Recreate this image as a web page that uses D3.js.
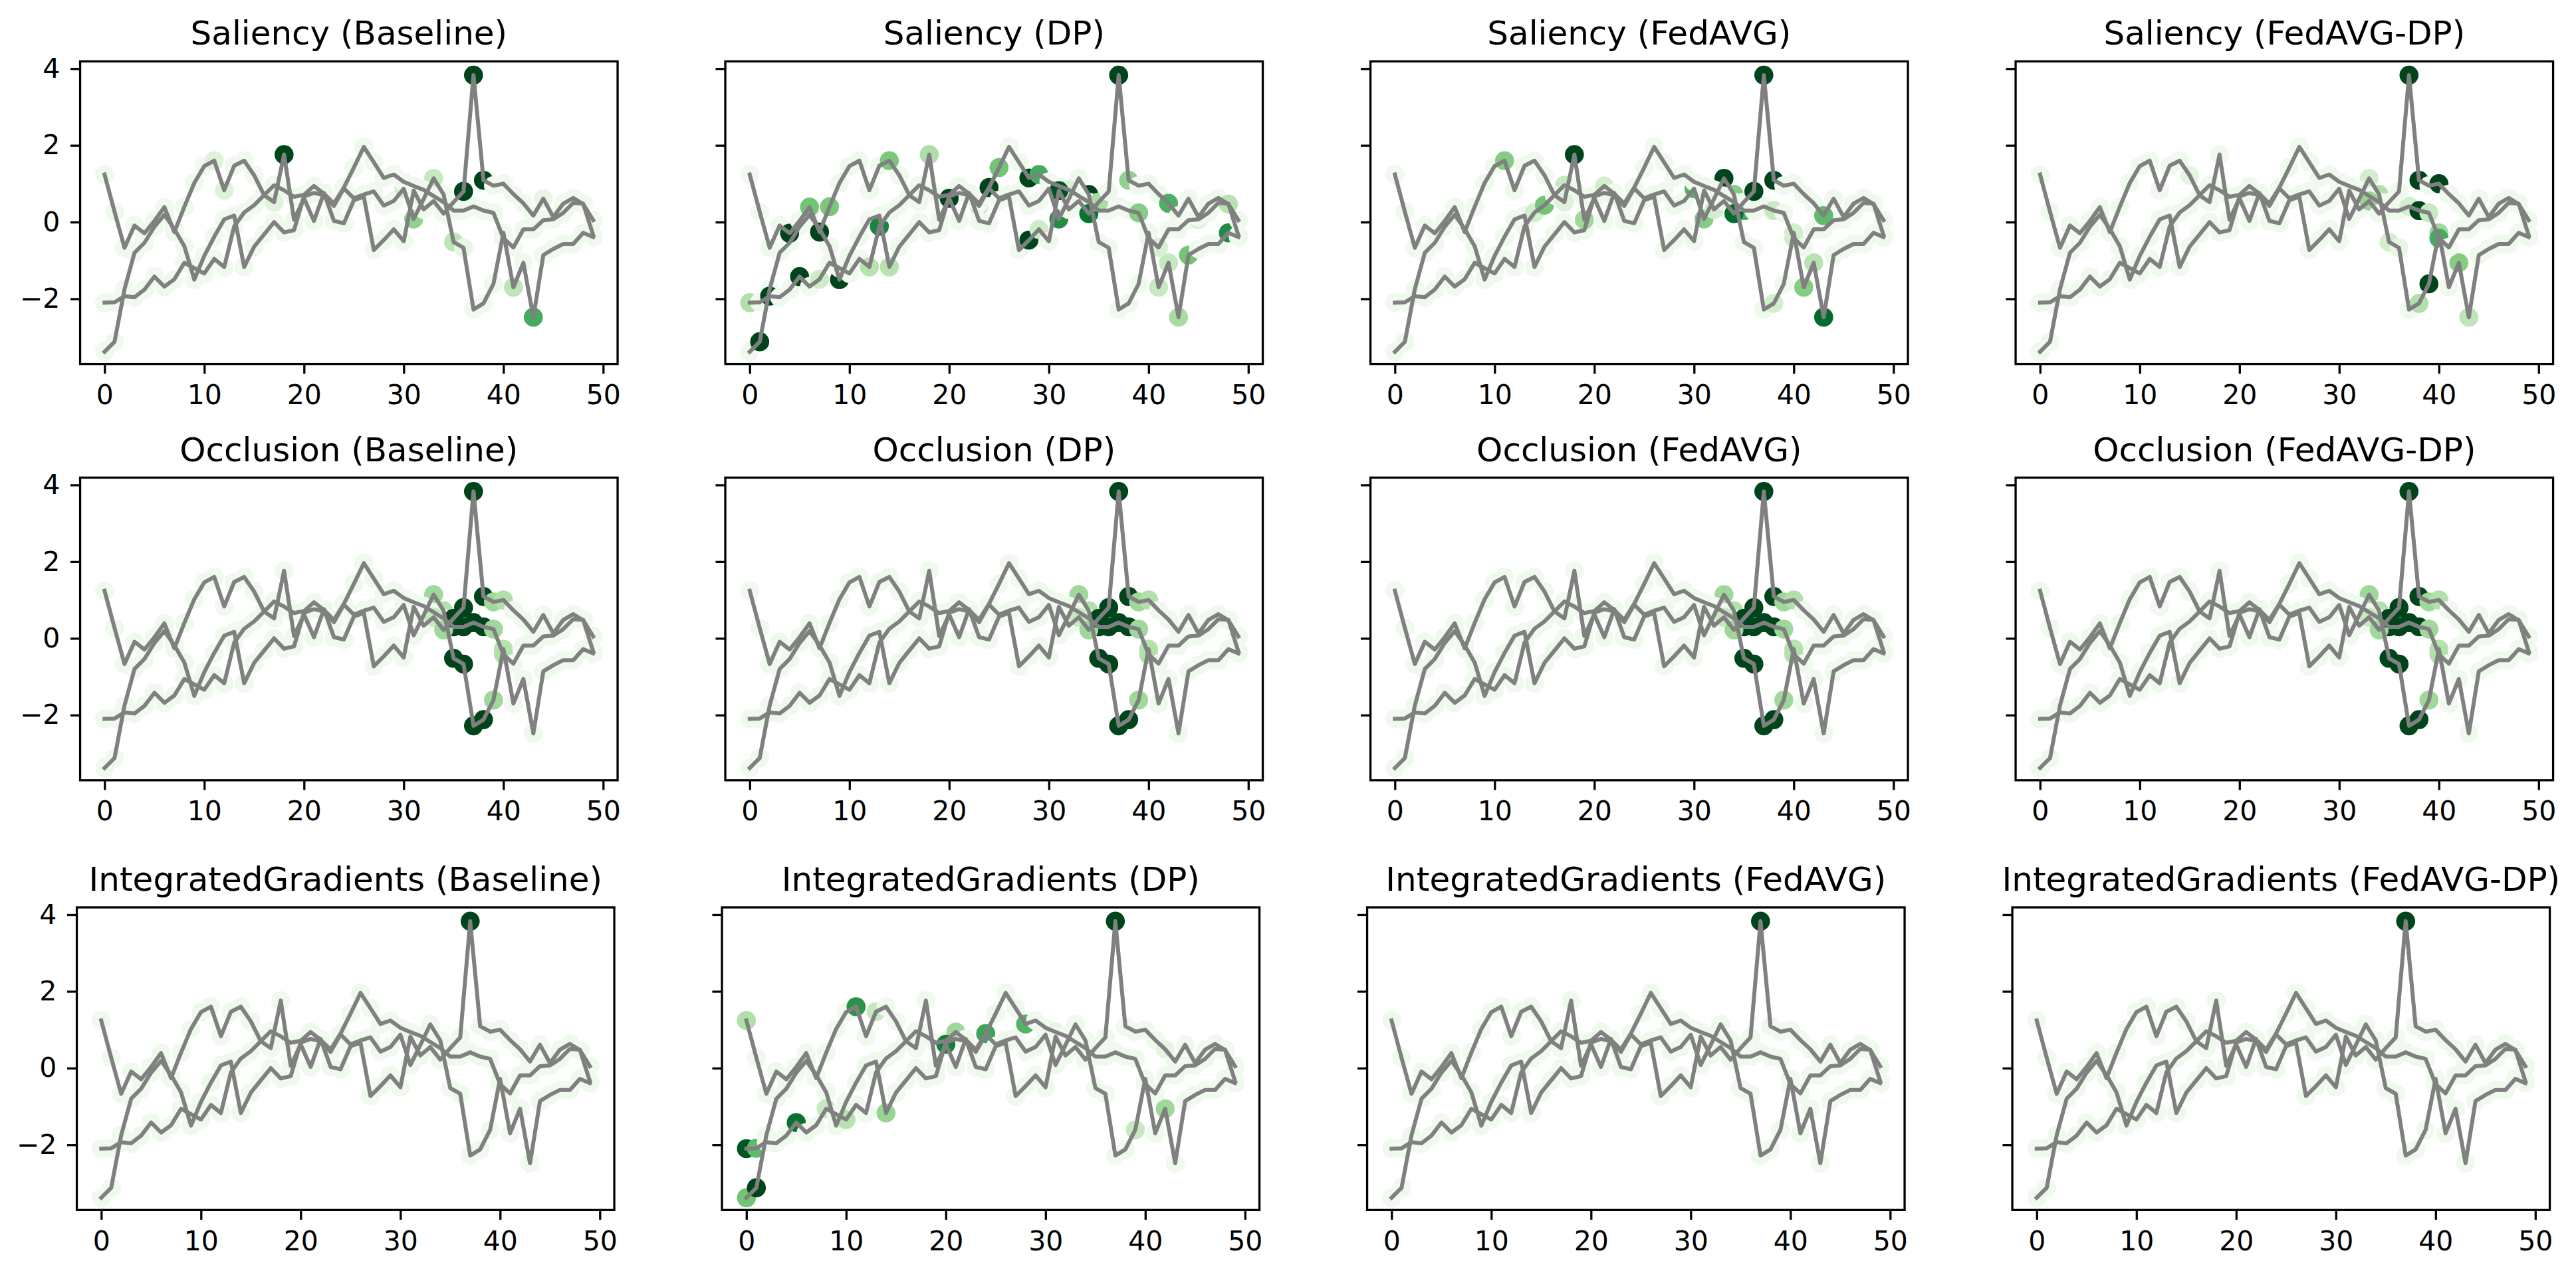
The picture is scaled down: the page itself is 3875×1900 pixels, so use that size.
<!DOCTYPE html>
<html>
<head>
<meta charset="utf-8">
<script src="https://cdnjs.cloudflare.com/ajax/libs/d3/7.8.5/d3.min.js"></script>
<style>
  body { margin: 0; background: #fff; }
  svg { display: block; font-family: "DejaVu Sans", sans-serif; }
</style>
</head>
<body>
<script>
const w = 3875;
const h = 1900;

const methods = ['Saliency', 'Occlusion', 'IntegratedGradients'];
const settings = ['Baseline', 'DP', 'FedAVG', 'FedAVG-DP'];

const xTicks = [0, 10, 20, 30, 40, 50];
const yTicks = [-2, 0, 2, 4];

// the three input series (same in every panel)
const series1 = [1.24, 0.27, -0.67, -0.09, -0.29, 0.03, 0.39, -0.26, 0.40, 1.02,
  1.46, 1.60, 0.83, 1.47, 1.60, 1.22, 0.70, 0.52, 1.76, 0.06,
  0.62, 0.03, 0.76, 0.03, -0.03, 0.57, 0.66, -0.73, -0.47, -0.19,
  -0.50, 0.82, 0.33, 0.55, 0.22, 0.52, 0.80, 3.83, 1.09, 0.95,
  1.00, 0.73, 0.49, 0.17, 0.61, 0.13, 0.48, 0.63, 0.47, 0.05];
const series2 = [-2.10, -2.09, -1.93, -1.96, -1.76, -1.42, -1.68, -1.49, -1.06, -1.20,
  -1.34, -0.96, -1.17, -0.11, 0.25, 0.44, 0.70, 0.96, 0.83, 0.66,
  0.71, 0.94, 0.74, 0.48, 0.90, 1.42, 1.96, 1.56, 1.15, 1.24,
  1.05, 0.94, 0.84, 0.68, 0.52, 0.30, 0.30, 0.41, 0.30, 0.24,
  -0.42, -0.66, -0.19, -0.19, 0.05, 0.07, 0.24, 0.50, 0.48, -0.34];
const series3 = [-3.38, -3.12, -1.75, -0.80, -0.54, -0.12, 0.19, -0.18, -0.63, -1.50,
  -0.88, -0.38, 0.07, 0.17, -1.17, -0.64, -0.32, 0.00, -0.27, -0.21,
  0.67, 0.76, 0.70, 0.42, 0.88, 0.62, 0.72, 0.80, 0.43, 0.55,
  0.87, 0.08, 0.60, 1.14, 0.72, -0.52, -0.67, -2.28, -2.12, -1.61,
  -0.28, -1.70, -1.06, -2.48, -0.86, -0.70, -0.57, -0.57, -0.28, -0.39];

// attribution of the points that stand out: [series, index, attribution]
// every other point gets baseAttr
const baseAttr = 0.05;
const salBaseline = [[0, 18, 1], [0, 36, 1], [0, 37, 1], [0, 38, 1], [2, 43, 0.62],
  [2, 41, 0.28], [2, 35, 0.28], [2, 33, 0.25], [2, 31, 0.42], [2, 30, 0.18],
  [0, 11, 0.15], [0, 12, 0.15], [0, 17, 0.15], [1, 34, 0.12], [0, 44, 0.1], [2, 36, 0.1]];
const salDP = [[2, 1, 1], [1, 2, 1], [0, 4, 1], [1, 5, 1], [0, 7, 1], [2, 9, 1],
  [0, 20, 1], [1, 24, 1], [1, 28, 1], [0, 28, 1], [0, 31, 0.95], [2, 34, 1], [0, 37, 1],
  [0, 6, 0.5], [0, 8, 0.48], [1, 13, 0.78], [0, 14, 0.48], [0, 18, 0.33], [1, 12, 0.3],
  [2, 14, 0.3], [1, 25, 0.5], [1, 29, 0.62], [2, 31, 0.75], [0, 34, 0.85], [0, 35, 0.35],
  [0, 29, 0.22], [0, 38, 0.42], [1, 39, 0.45], [0, 42, 0.6], [2, 41, 0.25], [2, 42, 0.25],
  [2, 43, 0.35], [2, 44, 0.5], [2, 48, 0.75], [0, 48, 0.3], [1, 41, 0.18], [1, 45, 0.18],
  [1, 0, 0.32], [1, 7, 0.22], [2, 23, 0.25], [1, 32, 0.18]];
const salFedAVG = [[0, 11, 0.45], [0, 18, 1], [1, 17, 0.25], [0, 17, 0.15], [1, 15, 0.5],
  [1, 14, 0.2], [0, 19, 0.38], [1, 21, 0.2], [2, 30, 0.58], [2, 31, 0.45], [2, 33, 1],
  [2, 34, 0.45], [0, 34, 0.88], [1, 35, 0.62], [0, 36, 1], [0, 37, 1], [0, 38, 1],
  [1, 38, 0.25], [0, 32, 0.2], [1, 40, 0.2], [2, 40, 0.2], [2, 41, 0.45], [2, 42, 0.3],
  [2, 43, 0.88], [0, 43, 0.55], [2, 38, 0.2]];
const salFedAVGDP = [[0, 37, 1], [0, 38, 1], [0, 40, 1], [1, 38, 1], [2, 39, 1],
  [2, 38, 0.32], [2, 42, 0.45], [2, 43, 0.28], [2, 40, 0.38], [1, 40, 0.62], [1, 39, 0.25],
  [1, 37, 0.2], [2, 35, 0.2], [2, 36, 0.1], [2, 33, 0.2], [2, 34, 0.32], [0, 33, 0.4],
  [0, 15, 0.12]];
const occBaseline = [[0, 35, 1], [0, 36, 1], [0, 37, 1], [0, 38, 1], [1, 35, 1], [1, 36, 1],
  [1, 37, 1], [1, 38, 1], [2, 35, 1], [2, 36, 1], [2, 37, 1], [2, 38, 1], [2, 33, 0.38],
  [2, 34, 0.32], [0, 33, 0.25], [0, 34, 0.38], [0, 39, 0.38], [0, 40, 0.32], [1, 39, 0.38],
  [1, 40, 0.32], [2, 40, 0.3], [2, 39, 0.38]];
const occDP = occBaseline;
const occFedAVG = occBaseline;
const occFedAVGDP = occBaseline;
const igBaseline = [[0, 37, 1]];
const igDP = [[0, 37, 1], [0, 0, 0.32], [1, 0, 0.95], [1, 1, 0.55], [2, 1, 1], [2, 0, 0.5],
  [1, 5, 0.85], [0, 11, 0.72], [0, 13, 0.25], [1, 8, 0.25], [1, 10, 0.3], [2, 14, 0.4],
  [1, 16, 0.25], [0, 20, 0.8], [1, 21, 0.38], [1, 24, 0.65], [1, 28, 0.58], [1, 31, 0.12],
  [2, 39, 0.25], [2, 42, 0.38], [0, 42, 0.12]];
const igFedAVG = [[0, 37, 1]];
const igFedAVGDP = [[0, 37, 1]];

const highlights = [
  [salBaseline, salDP, salFedAVG, salFedAVGDP],
  [occBaseline, occDP, occFedAVG, occFedAVGDP],
  [igBaseline, igDP, igFedAVG, igFedAVGDP]
];
const series = [series1, series2, series3];
// markers of the first series end up on top
const drawOrder = [2, 1, 0];

// matplotlib "Greens"
const greens = d3.scaleLinear()
  .domain([0, 0.125, 0.25, 0.375, 0.5, 0.625, 0.75, 0.875, 1])
  .range(['#f7fcf5', '#e5f5e0', '#c7e9c0', '#a1d99b', '#74c476', '#41ab5d', '#238b45', '#006d2c', '#00441b']);

const panelW = 808.5;
const panelH = 455.3;
const colStep = 970.5;
const rowTop = [92.3, 718.5, 1365.0];
const rowShift = [0, 0, -5];

const svg = d3.select('body').append('svg').attr('width', w).attr('height', h);
svg.append('rect').attr('width', w).attr('height', h).attr('fill', '#fff');

const xScale = d3.scaleLinear().domain([-2.45, 51.45]).range([0, panelW]);
const yScale = d3.scaleLinear().domain([-3.70, 4.19]).range([panelH, 0]);

const line = d3.line().x((d, i) => xScale(i)).y((d) => yScale(d));

methods.forEach((method, r) => {
  settings.forEach((setting, c) => {
    const left = 120.55 + colStep * c + rowShift[r];
    const g = svg.append('g').attr('transform', `translate(${left},${rowTop[r]})`);

    const attr = series.map((s) => s.map(() => baseAttr));
    highlights[r][c].forEach(([k, i, a]) => { attr[k][i] = a; });

    const points = [];
    drawOrder.forEach((k) => series[k].forEach((v, i) => points.push({ i: i, v: v, a: attr[k][i] })));

    // markers
    g.selectAll('circle')
      .data(points)
      .enter()
      .append('circle')
      .attr('cx', (d) => xScale(d.i))
      .attr('cy', (d) => yScale(d.v))
      .attr('r', 14.3)
      .attr('fill', (d) => greens(d.a));

    // lines on top
    g.selectAll('path.series')
      .data(series)
      .enter()
      .append('path')
      .attr('class', 'series')
      .attr('d', line)
      .attr('fill', 'none')
      .attr('stroke', '#808080')
      .attr('stroke-width', 6)
      .attr('stroke-linejoin', 'round')
      .attr('stroke-linecap', 'square');

    // Bottom axis
    const xAxis = d3.axisBottom(xScale).tickValues(xTicks).tickSize(14.6).tickPadding(16.5);
    const gx = g.append('g').attr('transform', `translate(0,${panelH})`).call(xAxis);

    // Left axis
    const yAxis = d3.axisLeft(yScale).tickValues(yTicks).tickSize(14.6).tickPadding(15.5);
    if (c > 0) yAxis.tickFormat('');
    const gy = g.append('g').call(yAxis);

    [gx, gy].forEach((ax) => {
      ax.select('.domain').remove();
      ax.selectAll('line').attr('stroke', '#000').attr('stroke-width', 3.3);
      ax.selectAll('text')
        .attr('fill', '#000')
        .style('font-family', '"DejaVu Sans", sans-serif')
        .style('font-size', '41px');
    });

    // frame
    g.append('rect')
      .attr('width', panelW)
      .attr('height', panelH)
      .attr('fill', 'none')
      .attr('stroke', '#000')
      .attr('stroke-width', 3.3);

    // title
    g.append('text')
      .attr('x', panelW / 2)
      .attr('y', -25)
      .attr('text-anchor', 'middle')
      .style('font-size', '50px')
      .attr('fill', '#000')
      .text(`${method} (${setting})`);
  });
});
</script>
</body>
</html>
